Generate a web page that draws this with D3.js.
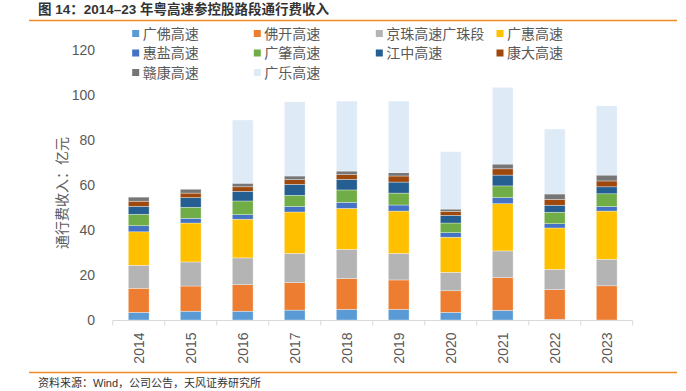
<!DOCTYPE html>
<html><head><meta charset="utf-8">
<script src="https://cdn.jsdelivr.net/npm/d3@7"></script>
<style>
body{margin:0;background:#fff;}
svg{display:block;font-family:"Liberation Sans","Noto Sans CJK SC",sans-serif;}
</style></head>
<body><svg id="c" width="686" height="391"></svg>
<script>
const years = ["2014","2015","2016","2017","2018","2019","2020","2021","2022","2023"];
const seriesNames = ["广佛高速","佛开高速","京珠高速广珠段","广惠高速","惠盐高速","广肇高速","江中高速","康大高速","赣康高速","广乐高速"];
const guangfo   = [3.4, 3.9, 3.9, 4.4, 4.7, 4.7, 3.4, 4.3, 0.3, 0];
const fokai     = [10.7, 11.2, 11.8, 12.2, 13.7, 13.1, 9.6, 14.5, 13.2, 15.2];
const jingzhu   = [10.2, 10.7, 11.9, 13.0, 13.0, 11.8, 8.2, 11.9, 9.0, 11.8];
const guanghui  = [14.9, 17.3, 17.2, 18.4, 18.2, 18.8, 15.6, 21.0, 18.4, 21.4];
const huiyan    = [2.7, 2.1, 2.0, 2.4, 2.7, 2.7, 2.0, 2.7, 1.9, 2.0];
const guangzhao = [5.1, 4.9, 6.1, 5.0, 5.5, 5.3, 4.3, 5.2, 5.1, 5.7];
const jiangzhong= [3.5, 4.3, 4.3, 4.9, 4.7, 4.9, 3.4, 4.8, 3.1, 3.1];
const kangda    = [2.3, 2.0, 2.0, 2.1, 2.1, 2.7, 1.8, 2.8, 2.6, 2.6];
const gankang   = [1.8, 1.7, 1.6, 1.6, 1.6, 1.5, 1.0, 2.1, 2.4, 2.6];
const guangle   = [0, 0, 28.1, 33.0, 31.1, 31.8, 25.5, 34.1, 28.9, 30.8];
const yTicks = [0, 20, 40, 60, 80, 100, 120];
const colors = ["#5B9BD5","#ED7D31","#B4B4B4","#FFC000","#4472C4","#70AD47","#255E91","#9E480E","#767676","#DEEBF7"];

const seriesData = [guangfo, fokai, jingzhu, guanghui, huiyan, guangzhao, jiangzhong, kangda, gankang, guangle];
const table = years.map((y, i) => {
  const o = {year: y};
  seriesNames.forEach((n, j) => o[n] = seriesData[j][i]);
  return o;
});

const svg = d3.select("#c");
const x0 = 112.7, x1 = 632.7, yBase = 320, yTop = 50;

// Title
svg.append("text").attr("x", 38).attr("y", 14)
  .attr("font-size", 13.5).attr("font-weight", "bold").attr("fill", "#333")
  .text("图 14：2014–23 年粤高速参控股路段通行费收入");
svg.append("line").attr("x1", 29).attr("x2", 677).attr("y1", 20.5).attr("y2", 20.5)
  .attr("stroke", "#F08A24").attr("stroke-width", 1.5);

// Footer
svg.append("line").attr("x1", 29).attr("x2", 677).attr("y1", 372.5).attr("y2", 372.5)
  .attr("stroke", "#F08A24").attr("stroke-width", 1.5);
svg.append("text").attr("x", 38).attr("y", 387)
  .attr("font-size", 11).attr("fill", "#333")
  .text("资料来源：Wind，公司公告，天风证券研究所");

const x = d3.scaleBand().domain(years).range([x0, x1]).paddingInner(0.6).paddingOuter(0.3);
const y = d3.scaleLinear().domain([0, 120]).range([yBase, yTop]);

const layers = d3.stack().keys(seriesNames)(table);

const g = svg.append("g");
g.selectAll("g.layer").data(layers).join("g")
  .attr("fill", (d, i) => colors[i])
  .selectAll("rect").data(d => d).join("rect")
  .attr("x", d => x(d.data.year))
  .attr("width", x.bandwidth())
  .attr("y", d => y(d[1]))
  .attr("height", d => Math.max(0, y(d[0]) - y(d[1])))
  .attr("stroke", "rgba(255,255,255,0.55)")
  .attr("stroke-width", 0.6);

// Y axis labels
const yAxis = d3.axisLeft(y).tickValues(yTicks).tickSize(0).tickPadding(0);
const ya = svg.append("g").attr("transform", `translate(95,0)`).call(yAxis);
ya.select(".domain").remove();
ya.selectAll("text").attr("font-size", 14).attr("fill", "#595959")
  .attr("font-family", "Liberation Sans, sans-serif").attr("dy", "0.35em");

// Y title
svg.append("text").attr("transform", "translate(67,193) rotate(-90)")
  .attr("text-anchor", "middle").attr("font-size", 14).attr("fill", "#595959")
  .text("通行费收入：亿元");

// X axis
const xa = svg.append("g").attr("transform", `translate(0,${yBase + 0.5})`)
  .call(d3.axisBottom(x).tickSize(0).tickPadding(0));
xa.select(".domain").attr("stroke", "#D9D9D9").attr("d", `M${x0},0H${x1}`);
xa.selectAll(".tick text").attr("font-size", 14).attr("fill", "#595959")
  .attr("font-family", "Liberation Sans, sans-serif")
  .attr("transform", "rotate(-90)").attr("text-anchor", "end")
  .attr("x", -12).attr("y", 0).attr("dy", "0.35em");
const bounds = d3.range(years.length + 1).map(i => x0 + i * (x1 - x0) / years.length);
xa.selectAll("line.bound").data(bounds).join("line").attr("class", "bound")
  .attr("x1", d => d).attr("x2", d => d).attr("y1", 0).attr("y2", 5)
  .attr("stroke", "#D9D9D9");

// Legend
const legCols = [135.7, 257.3, 379.3, 500];
const legRows = [33.5, 53, 72.5];
const leg = svg.append("g");
seriesNames.forEach((n, i) => {
  const cx = legCols[i % 4], cy = legRows[Math.floor(i / 4)];
  leg.append("rect").attr("x", cx - 3.5).attr("y", cy - 3.5).attr("width", 7).attr("height", 7).attr("fill", colors[i]);
  leg.append("text").attr("x", cx + 7).attr("y", cy).attr("dy", "0.36em")
    .attr("font-size", 14).attr("fill", "#595959").text(n);
});
</script></body></html>
